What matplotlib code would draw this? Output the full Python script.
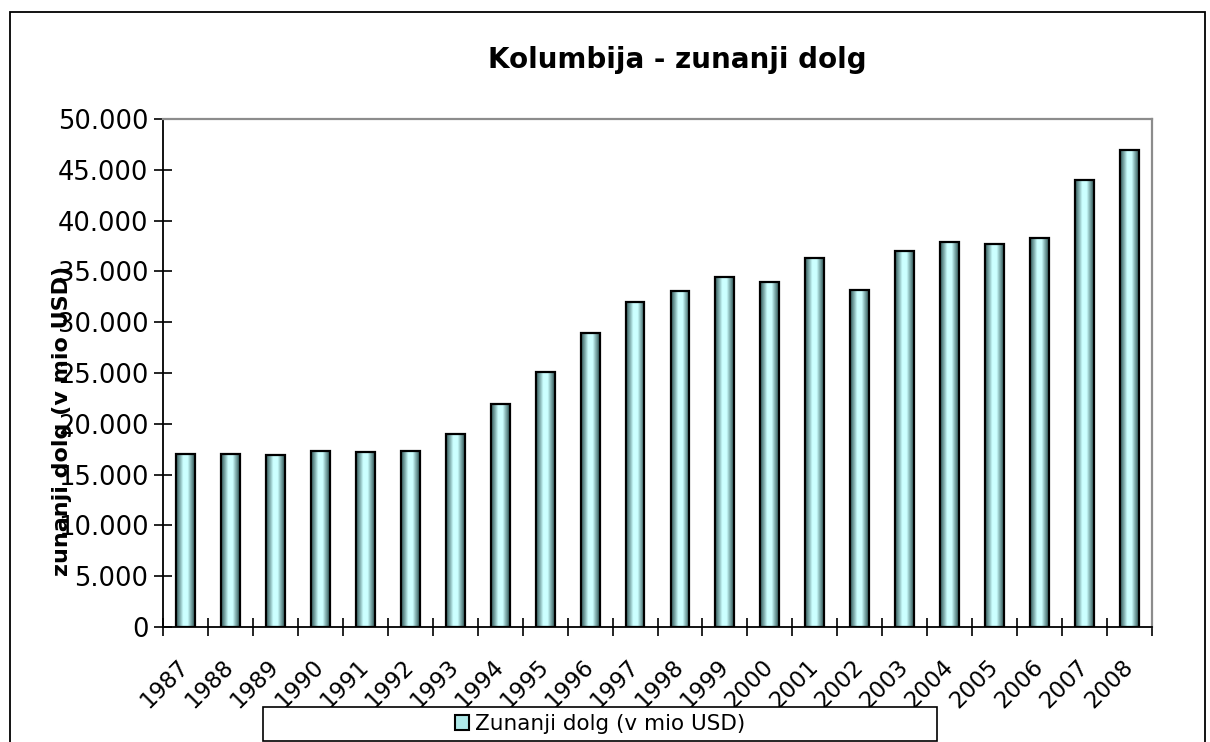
import numpy as np
import matplotlib
matplotlib.use("Agg")
import matplotlib.pyplot as plt
from matplotlib.patches import Rectangle, Patch

# Colombia external debt (million USD)
years = ["1987", "1988", "1989", "1990", "1991", "1992", "1993", "1994", "1995", "1996", "1997",
         "1998", "1999", "2000", "2001", "2002", "2003", "2004", "2005", "2006", "2007", "2008"]
debt = [17000, 17000, 16900, 17300, 17200, 17300, 19000, 21900, 25100, 28900, 32000,
        33100, 34400, 34000, 36300, 33200, 37000, 37900, 37700, 38300, 44000, 46900]
yticks = [0, 5000, 10000, 15000, 20000, 25000, 30000, 35000, 40000, 45000, 50000]

title = "Kolumbija - zunanji dolg"
ylabel = "zunanji dolg (v mio USD)"
series_name = "Zunanji dolg (v mio USD)"

plt.rcParams['font.family'] = ['DejaVu Sans']

W, H = 1210, 742
fig = plt.figure(figsize=(W / 100, H / 100), dpi=100)
ax = fig.add_axes([163 / W, 1 - 627 / H, 989 / W, 508 / H])

x = np.arange(len(years))
bw = 0.42

# horizontal gradient: dark teal at the edges, light cyan inside
t = np.linspace(0, 1, 64)
f = np.clip(np.minimum(t, 1 - t) / 0.38, 0, 1) ** 1.2
dark = np.array([0.22, 0.38, 0.38])
light = np.array([0.80, 1.0, 1.0])
grad = (dark[None, :] * (1 - f[:, None]) + light[None, :] * f[:, None])[None, :, :]

for xi, v in zip(x, debt):
    ax.imshow(grad, extent=(xi - bw / 2, xi + bw / 2, 0, v), aspect='auto',
              interpolation='bilinear', zorder=2)
ax.bar(x, debt, width=bw, facecolor='none', edgecolor='black', linewidth=1.6, zorder=3)

ax.set_xlim(-0.5, len(years) - 0.5)
ax.set_ylim(0, 50000)
ax.set_aspect('auto')

ax.set_yticks(yticks)
ax.set_yticklabels(["{:,}".format(v).replace(",", ".") for v in yticks], fontsize=18.5)
ax.tick_params(axis='y', direction='inout', length=13, width=1.2, pad=4)

ax.set_xticks(x)
ax.set_xticklabels(years, fontsize=16.5, rotation=45, ha='right', va='center',
                   rotation_mode='anchor')
ax.tick_params(axis='x', which='major', length=0, pad=26)
ax.set_xticks(np.arange(-0.5, len(years), 1.0), minor=True)
ax.tick_params(axis='x', which='minor', direction='inout', length=13, width=1.2)

for s in ['left', 'bottom']:
    ax.spines[s].set_color('black')
    ax.spines[s].set_linewidth(1.3)
for s in ['top', 'right']:
    ax.spines[s].set_color('#8c8c8c')
    ax.spines[s].set_linewidth(1.6)

fig.text(677 / W, 1 - 60 / H, title, fontsize=20, fontweight='bold', ha='center', va='center')
fig.text(62 / W, 1 - 421 / H, ylabel, fontsize=16, fontweight='bold', rotation=90,
         ha='center', va='center')

# outer chart frame
fig.patches.append(Rectangle((10 / W, -0.05), 1195 / W, 1.05 - 12 / H, transform=fig.transFigure,
                             fill=False, edgecolor='black', linewidth=1.3))

# legend box
fig.patches.append(Rectangle((263 / W, 1 - 741 / H), 674 / W, 34 / H, transform=fig.transFigure,
                             facecolor='white', edgecolor='black', linewidth=1.2, zorder=5))
handle = Patch(facecolor='#aee8e8', edgecolor='black', linewidth=1.5, label=series_name)
leg = fig.legend(handles=[handle], loc='center', bbox_to_anchor=(600 / W, 1 - 724 / H),
                 frameon=False, fontsize=15.5, handlelength=0.65, handleheight=0.65,
                 handletextpad=0.3, borderpad=0)
leg.set_zorder(6)

plt.savefig("out.png", dpi=100)
